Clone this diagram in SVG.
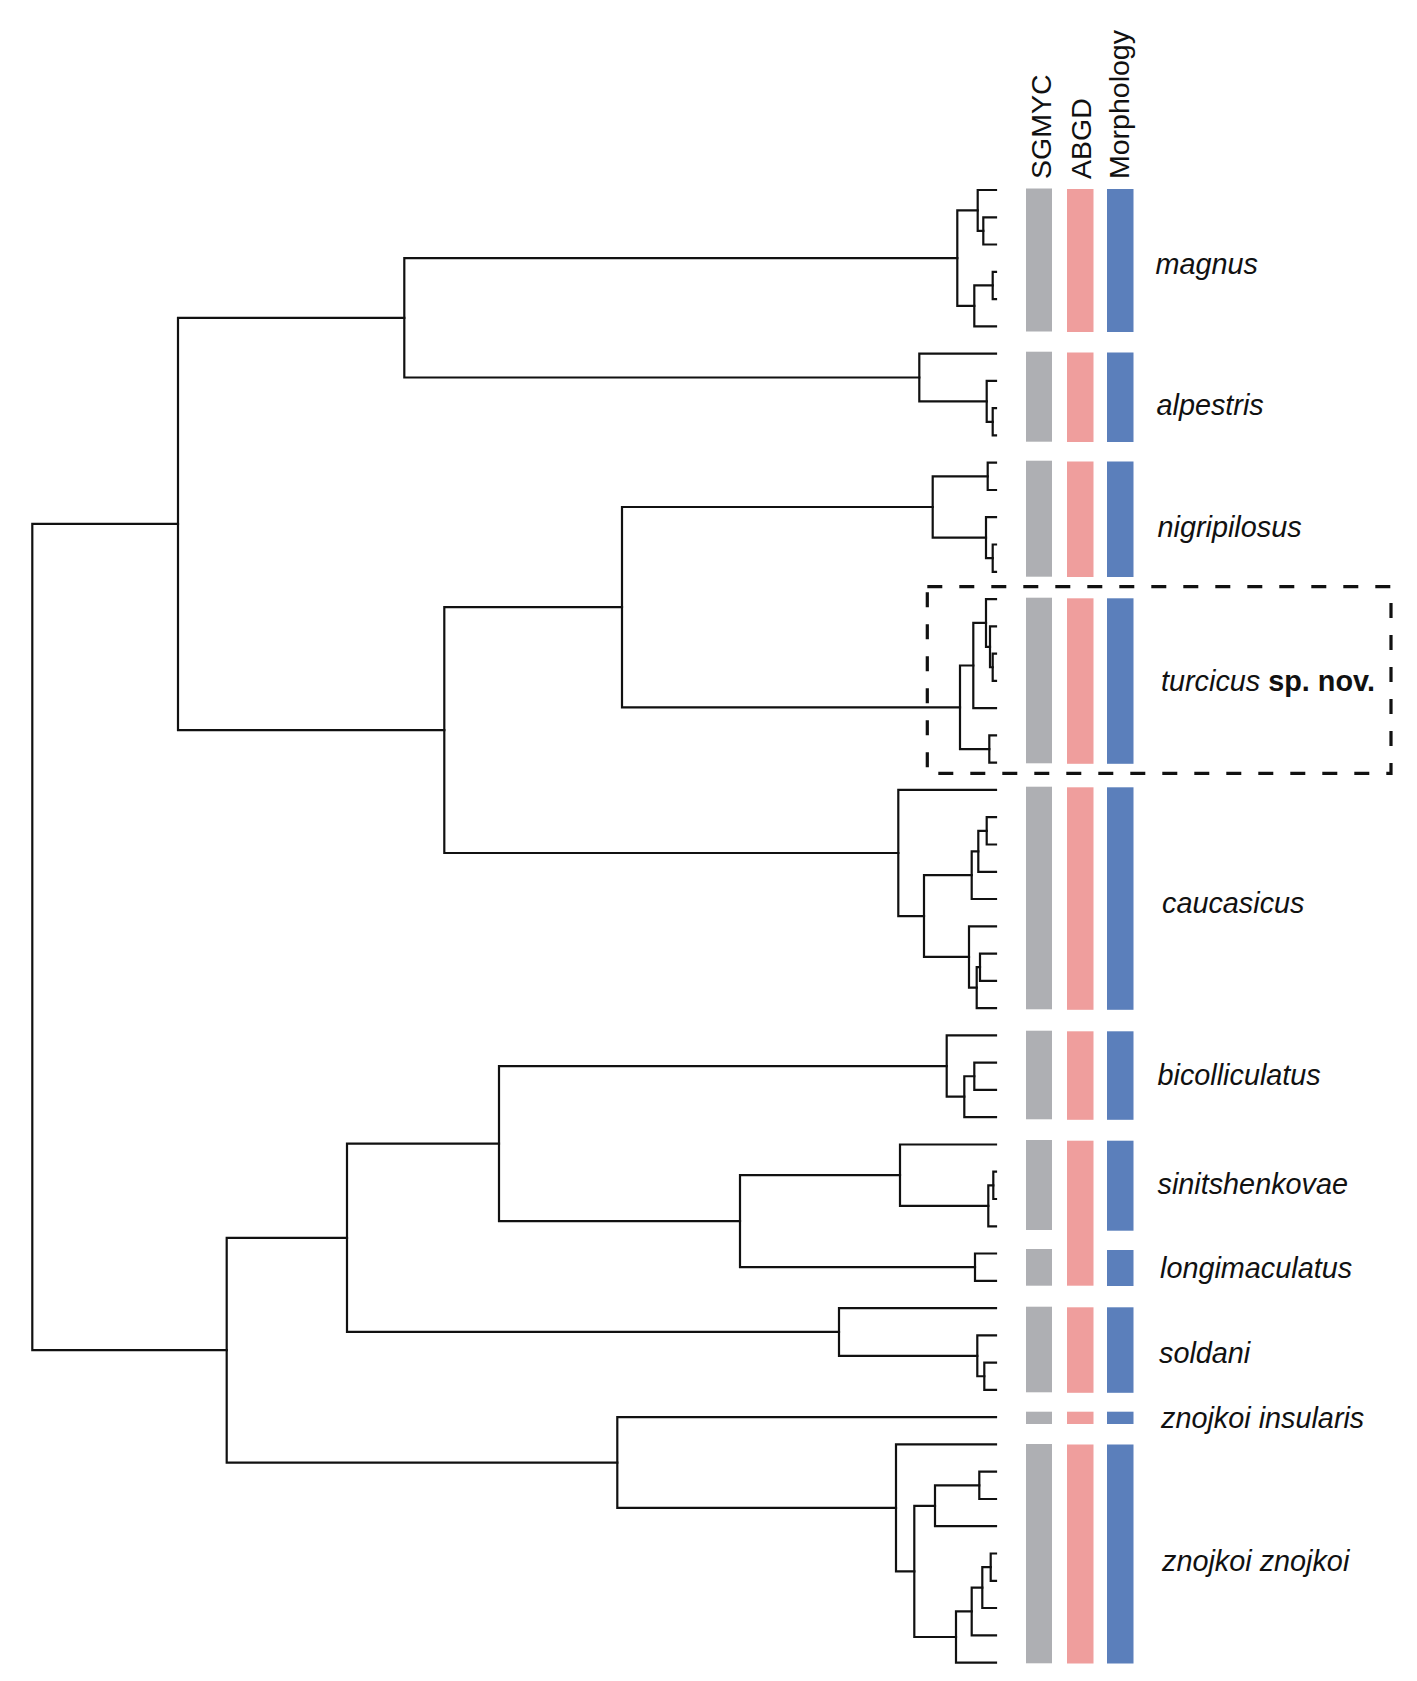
<svg xmlns="http://www.w3.org/2000/svg" width="1417" height="1681" viewBox="0 0 1417 1681">
<style>
.br{fill:none;stroke:#111;stroke-width:2.2;stroke-linejoin:miter;stroke-linecap:square}
.g{fill:#AEAFB3}
.p{fill:#EF9E9D}
.b{fill:#5B7FBB}
.lb{font-family:"Liberation Sans",Arial,sans-serif;font-size:28.8px;font-style:italic;fill:#111}
.hd{font-family:"Liberation Sans",Arial,sans-serif;font-size:28.5px;fill:#111}
.bold{font-style:normal;font-weight:bold}
.box{fill:none;stroke:#111;stroke-width:3.2;stroke-dasharray:15 17}
</style>
<rect width="1417" height="1681" fill="#fff"/>
<g id="headers">
<text class="hd" transform="translate(1050.5,179) rotate(-90)">SGMYC</text>
<text class="hd" transform="translate(1090.5,179) rotate(-90)">ABGD</text>
<text class="hd" transform="translate(1128.5,179) rotate(-90)">Morphology</text>
</g>
<g id="connectors">
<path class="br" d="M996 217.3 H983.3 V244.5 H996"/>
<path class="br" d="M996 190 H977.7 V230.9 H983.3"/>
<path class="br" d="M996 271.8 H992.7 V299.1 H996"/>
<path class="br" d="M992.7 285.45 H974.3 V326.4 H996"/>
<path class="br" d="M977.7 210.45 H957.3 V305.9 H974.3"/>
<path class="br" d="M996 408.2 H992.7 V435.4 H996"/>
<path class="br" d="M996 380.9 H986.7 V421.8 H992.7"/>
<path class="br" d="M996 353.6 H919.3 V401.35 H986.7"/>
<path class="br" d="M957.3 258.2 H404.3 V377.5 H919.3"/>
<path class="br" d="M996 462.7 H987.7 V490 H996"/>
<path class="br" d="M996 544.5 H992.7 V571.8 H996"/>
<path class="br" d="M996 517.2 H986 V558.15 H992.7"/>
<path class="br" d="M987.7 476.35 H932.7 V537.7 H986"/>
<path class="br" d="M996 653.6 H992.7 V680.9 H996"/>
<path class="br" d="M996 626.3 H990 V667.25 H992.7"/>
<path class="br" d="M996 599.1 H986 V646.8 H990"/>
<path class="br" d="M986 622.95 H973.3 V708.1 H996"/>
<path class="br" d="M996 735.4 H989.3 V762.7 H996"/>
<path class="br" d="M973.3 665.5 H960 V749.05 H989.3"/>
<path class="br" d="M932.7 507 H622 V707.3 H960"/>
<path class="br" d="M996 817.2 H986.7 V844.5 H996"/>
<path class="br" d="M986.7 830.85 H978.3 V871.8 H996"/>
<path class="br" d="M978.3 851.3 H971.7 V899 H996"/>
<path class="br" d="M996 953.6 H980 V980.8 H996"/>
<path class="br" d="M980 967.2 H976.7 V1008.1 H996"/>
<path class="br" d="M996 926.3 H969 V987.65 H976.7"/>
<path class="br" d="M971.7 875.15 H924 V956.97 H969"/>
<path class="br" d="M996 789.9 H898.3 V916.06 H924"/>
<path class="br" d="M622 607.15 H444.3 V852.98 H898.3"/>
<path class="br" d="M404.3 317.85 H178 V730.06 H444.3"/>
<path class="br" d="M996 1062.6 H974.3 V1089.9 H996"/>
<path class="br" d="M974.3 1076.25 H964.3 V1117.2 H996"/>
<path class="br" d="M996 1035.4 H946.7 V1096.7 H964.3"/>
<path class="br" d="M996 1171.7 H993.3 V1199 H996"/>
<path class="br" d="M993.3 1185.35 H988.3 V1226.3 H996"/>
<path class="br" d="M996 1144.5 H900 V1205.8 H988.3"/>
<path class="br" d="M996 1253.5 H975 V1280.8 H996"/>
<path class="br" d="M900 1175.15 H740 V1267.15 H975"/>
<path class="br" d="M946.7 1066.05 H499 V1221.15 H740"/>
<path class="br" d="M996 1362.6 H984.3 V1389.9 H996"/>
<path class="br" d="M996 1335.3 H977.3 V1376.25 H984.3"/>
<path class="br" d="M996 1308.1 H839 V1355.8 H977.3"/>
<path class="br" d="M499 1143.6 H347 V1331.95 H839"/>
<path class="br" d="M996 1471.7 H979.3 V1499 H996"/>
<path class="br" d="M979.3 1485.35 H935 V1526.2 H996"/>
<path class="br" d="M996 1553.5 H990.7 V1580.8 H996"/>
<path class="br" d="M990.7 1567.15 H982.3 V1608 H996"/>
<path class="br" d="M982.3 1587.6 H971.7 V1635.3 H996"/>
<path class="br" d="M971.7 1611.45 H956 V1662.6 H996"/>
<path class="br" d="M935 1505.8 H914.3 V1637 H956"/>
<path class="br" d="M996 1444.4 H896 V1571.4 H914.3"/>
<path class="br" d="M996 1417.2 H617.3 V1507.9 H896"/>
<path class="br" d="M347 1237.8 H226.7 V1462.55 H617.3"/>
<path class="br" d="M178 523.96 H32.3 V1350.2 H226.7"/>
</g>
<g id="magnus">
<rect class="g" x="1026" y="188.5" width="26" height="143"/>
<rect class="p" x="1067" y="189" width="26.5" height="143"/>
<rect class="b" x="1107" y="189" width="26.5" height="143"/>
<text class="lb" x="1155.5" y="274">magnus</text>
</g>
<g id="alpestris">
<rect class="g" x="1026" y="351.7" width="26" height="90"/>
<rect class="p" x="1067" y="352.5" width="26.5" height="89.5"/>
<rect class="b" x="1107" y="352.5" width="26.5" height="89.5"/>
<text class="lb" x="1156.5" y="414.5">alpestris</text>
</g>
<g id="nigripilosus">
<rect class="g" x="1026" y="460.7" width="26" height="116"/>
<rect class="p" x="1067" y="461.5" width="26.5" height="115.5"/>
<rect class="b" x="1107" y="461.5" width="26.5" height="115.5"/>
<text class="lb" x="1157.5" y="536.7">nigripilosus</text>
</g>
<g id="turcicus">
<rect class="g" x="1026" y="597.7" width="26" height="165.6"/>
<rect class="p" x="1067" y="598.3" width="26.5" height="165.5"/>
<rect class="b" x="1107" y="598.3" width="26.5" height="165.5"/>
<text class="lb" x="1161" y="691">turcicus <tspan class="bold">sp. nov.</tspan></text>
<rect class="box" x="927.3" y="586.7" width="463.7" height="186.6"/>
</g>
<g id="caucasicus">
<rect class="g" x="1026" y="786.7" width="26" height="222.6"/>
<rect class="p" x="1067" y="787.3" width="26.5" height="222.5"/>
<rect class="b" x="1107" y="787.3" width="26.5" height="222.5"/>
<text class="lb" x="1162" y="913">caucasicus</text>
</g>
<g id="bicolliculatus">
<rect class="g" x="1026" y="1030.7" width="26" height="88.6"/>
<rect class="p" x="1067" y="1031.3" width="26.5" height="88.5"/>
<rect class="b" x="1107" y="1031.3" width="26.5" height="88.5"/>
<text class="lb" x="1157.5" y="1084.5">bicolliculatus</text>
</g>
<g id="sinitshenkovae">
<rect class="g" x="1026" y="1140" width="26" height="90"/>
<rect class="p" x="1067" y="1140.7" width="26.5" height="145"/>
<rect class="b" x="1107" y="1140.7" width="26.5" height="90"/>
<text class="lb" x="1157.5" y="1194">sinitshenkovae</text>
</g>
<g id="longimaculatus">
<rect class="g" x="1026" y="1249" width="26" height="36.7"/>
<rect class="b" x="1107" y="1250" width="26.5" height="36"/>
<text class="lb" x="1160" y="1277.5">longimaculatus</text>
</g>
<g id="soldani">
<rect class="g" x="1026" y="1306.7" width="26" height="85.6"/>
<rect class="p" x="1067" y="1307.3" width="26.5" height="85.5"/>
<rect class="b" x="1107" y="1307.3" width="26.5" height="85.5"/>
<text class="lb" x="1159" y="1363">soldani</text>
</g>
<g id="znojkoi-insularis">
<rect class="g" x="1026" y="1411.7" width="26" height="12.3"/>
<rect class="p" x="1067" y="1411.7" width="26.5" height="12.3"/>
<rect class="b" x="1107" y="1411.7" width="26.5" height="12.3"/>
<text class="lb" x="1161" y="1427.6">znojkoi insularis</text>
</g>
<g id="znojkoi-znojkoi">
<rect class="g" x="1026" y="1444" width="26" height="219.3"/>
<rect class="p" x="1067" y="1444.5" width="26.5" height="219"/>
<rect class="b" x="1107" y="1444.5" width="26.5" height="219"/>
<text class="lb" x="1162" y="1571">znojkoi znojkoi</text>
</g>
</svg>
